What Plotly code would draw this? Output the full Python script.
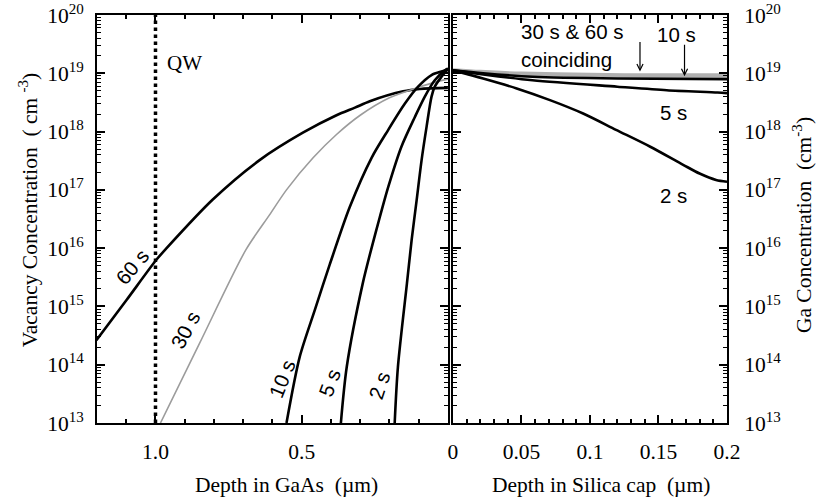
import plotly.graph_objects as go

# ---------------- data ----------------
# Left panel: vacancy concentration vs depth in GaAs (um), values as log10(cm^-3)
gaas_depth_60 = [1.202, 1.099, 0.997, 0.962, 0.805, 0.644, 0.496, 0.381, 0.318, 0.267, 0.153, 0.096, 0.0]
gaas_log_60 = [14.42, 15.11, 15.80, 16.00, 16.83, 17.51, 17.98, 18.28, 18.41, 18.52, 18.69, 18.73, 18.75]

gaas_depth_30 = [0.983, 0.849, 0.691, 0.610, 0.552, 0.461, 0.381, 0.300, 0.200, 0.106, 0.027, 0.0]
gaas_log_30 = [13.00, 14.37, 15.97, 16.57, 17.00, 17.55, 17.95, 18.28, 18.58, 18.75, 18.87, 18.90]

gaas_depth_10 = [0.552, 0.507, 0.455, 0.404, 0.336, 0.261, 0.204, 0.147, 0.102, 0.056, 0.010, 0.0]
gaas_log_10 = [13.00, 14.13, 14.94, 15.72, 16.70, 17.55, 18.03, 18.48, 18.77, 18.97, 19.05, 19.08]

gaas_depth_5 = [0.366, 0.346, 0.291, 0.256, 0.233, 0.204, 0.159, 0.113, 0.079, 0.045, 0.010, 0.0]
gaas_log_5 = [13.00, 13.96, 15.40, 16.10, 16.53, 17.05, 17.74, 18.25, 18.60, 18.88, 19.05, 19.08]

gaas_depth_2 = [0.182, 0.171, 0.140, 0.124, 0.107, 0.090, 0.073, 0.056, 0.045, 0.022, 0.004, 0.0]
gaas_log_2 = [13.00, 13.96, 15.40, 16.14, 16.82, 17.51, 18.08, 18.60, 18.77, 18.94, 19.05, 19.08]

qw_depth = [1.0, 1.0]
qw_log = [13.0, 20.0]

# Right panel: Ga concentration vs depth in silica cap (um)
sil_depth_3060 = [0.0, 0.02, 0.05, 0.10, 0.15, 0.20]
sil_log_3060 = [19.05, 19.02, 18.99, 18.97, 18.96, 18.96]

sil_depth_10 = [0.0, 0.022, 0.058, 0.12, 0.20]
sil_log_10 = [19.05, 19.00, 18.94, 18.91, 18.90]

sil_depth_5 = [0.0, 0.058, 0.12, 0.156, 0.193, 0.20]
sil_log_5 = [19.05, 18.88, 18.77, 18.71, 18.67, 18.66]

sil_depth_2 = [0.0, 0.022, 0.0465, 0.0708, 0.095, 0.119, 0.144, 0.168, 0.18, 0.192, 0.20]
sil_log_2 = [19.05, 18.91, 18.74, 18.54, 18.31, 18.03, 17.74, 17.43, 17.28, 17.17, 17.14]

y_decades = [13, 14, 15, 16, 17, 18, 19, 20]
gaas_ticks = [1.0, 0.5]
gaas_ticktext = ["1.0", "0.5"]
gaas_minor = [1.1, 0.9, 0.8, 0.7, 0.6, 0.4, 0.3, 0.2, 0.1]
sil_ticks = [0, 0.05, 0.1, 0.15, 0.2]
sil_ticktext = ["0", "0.05", "0.1", "0.15", "0.2"]

# ---------------- figure ----------------
SERIF = "Liberation Serif"
SANS = "Liberation Sans"
BLACK = "#000000"

def pw(logs):
    return [10.0 ** v for v in logs]

fig = go.Figure()

def add(x, logs, xa, ya, color=BLACK, width=2.6, dash="solid"):
    fig.add_trace(go.Scatter(x=x, y=pw(logs), mode="lines", xaxis=xa, yaxis=ya,
                             line=dict(color=color, width=width, dash=dash, shape="spline", smoothing=0.8),
                             showlegend=False, hoverinfo="skip"))

add(gaas_depth_60, gaas_log_60, "x", "y")
add(gaas_depth_30, gaas_log_30, "x", "y", color="#9c9c9c", width=1.6)
add(gaas_depth_10, gaas_log_10, "x", "y")
add(gaas_depth_5, gaas_log_5, "x", "y")
add(gaas_depth_2, gaas_log_2, "x", "y")
fig.add_trace(go.Scatter(x=qw_depth, y=pw(qw_log), mode="lines", xaxis="x", yaxis="y",
                         line=dict(color=BLACK, width=3.5, dash="dot"),
                         showlegend=False, hoverinfo="skip"))

add(sil_depth_3060, sil_log_3060, "x2", "y2", color="#b0b0b0", width=4.5)
add(sil_depth_10, sil_log_10, "x2", "y2")
add(sil_depth_5, sil_log_5, "x2", "y2")
add(sil_depth_2, sil_log_2, "x2", "y2")

ytickvals = [10.0 ** k for k in y_decades]
yticktext = ["10<sup>%d</sup>" % k for k in y_decades]
yminor = [m * 10.0 ** k for k in y_decades[:-1] for m in range(2, 10)]

tickfont = dict(family=SERIF, size=21.5, color=BLACK)
common_axis = dict(showline=True, linecolor=BLACK, linewidth=2, mirror="allticks",
                   ticks="inside", ticklen=8, tickwidth=1.5, tickcolor=BLACK,
                   showgrid=False, zeroline=False, tickfont=tickfont, automargin=False)

fig.update_layout(
    width=822, height=502,
    margin=dict(l=97, r=95, t=15, b=79, autoexpand=False),
    paper_bgcolor="white", plot_bgcolor="white",
    xaxis=dict(domain=[0, 0.557], range=[1.2, 0], tickmode="array",
               tickvals=gaas_ticks, ticktext=gaas_ticktext, anchor="y",
               minor=dict(tickmode="array", tickvals=gaas_minor, ticks="inside", ticklen=4,
                          tickwidth=1.5, tickcolor=BLACK),
               ticklabelstandoff=8, **common_axis),
    yaxis=dict(type="log", range=[13, 20], tickmode="array", tickvals=ytickvals,
               ticktext=yticktext, anchor="x",
               minor=dict(tickmode="array", tickvals=yminor, ticks="inside", ticklen=4,
                          tickwidth=1, tickcolor=BLACK),
               ticklabelstandoff=7, **common_axis),
    xaxis2=dict(domain=[0.565, 1], range=[0, 0.2], tickmode="array",
                tickvals=sil_ticks, ticktext=sil_ticktext, anchor="y2",
                minor=dict(tickmode="array", tickvals=[i / 100 for i in range(1, 20)],
                           ticks="inside", ticklen=4, tickwidth=1.5, tickcolor=BLACK),
                ticklabelstandoff=8, **common_axis),
    yaxis2=dict(type="log", range=[13, 20], tickmode="array", tickvals=ytickvals,
                ticktext=yticktext, anchor="x2", side="right",
                minor=dict(tickmode="array", tickvals=yminor, ticks="inside", ticklen=4,
                           tickwidth=1, tickcolor=BLACK),
                ticklabelstandoff=11, **common_axis),
)

serif = dict(family=SERIF, size=21.5, color=BLACK)
sans = dict(family=SANS, size=20.5, color=BLACK)

annots = [
    # axis titles
    dict(text="Depth in GaAs\u00a0 (\u00b5m)", x=0.30, y=-0.152, xref="paper", yref="paper", font=serif),
    dict(text="Depth in Silica cap\u00a0 (\u00b5m)", x=0.80, y=-0.152, xref="paper", yref="paper", font=serif),
    dict(text="Vacancy Concentration\u00a0 ( cm <sup>-3</sup>)", x=-0.109, y=0.522, xref="paper",
         yref="paper", textangle=-90, font=serif),
    dict(text="Ga Concentration\u00a0 (cm<sup>-3</sup>)", x=1.119, y=0.485, xref="paper",
         yref="paper", textangle=-90, font=serif),
    # left panel labels
    dict(text="QW", x=0.90, y=19.17, xref="x", yref="y", font=dict(family=SERIF, size=21, color=BLACK)),
    dict(text="60 s", x=1.079, y=15.68, xref="x", yref="y", textangle=-50, font=sans),
    dict(text="30 s", x=0.897, y=14.60, xref="x", yref="y", textangle=-62, font=sans),
    dict(text="10 s", x=0.568, y=13.77, xref="x", yref="y", textangle=-68, font=sans),
    dict(text="5 s", x=0.404, y=13.69, xref="x", yref="y", textangle=-70, font=sans),
    dict(text="2 s", x=0.236, y=13.65, xref="x", yref="y", textangle=-72, font=sans),
    # right panel labels
    dict(text="30 s & 60 s", x=0.0869, y=19.71, xref="x2", yref="y2", font=sans),
    dict(text="coinciding", x=0.0825, y=19.24, xref="x2", yref="y2", font=sans),
    dict(text="10 s", x=0.1635, y=19.67, xref="x2", yref="y2", font=sans),
    dict(text="5 s", x=0.1606, y=18.32, xref="x2", yref="y2", font=sans),
    dict(text="2 s", x=0.1606, y=16.91, xref="x2", yref="y2", font=sans),
]
for a in annots:
    a.setdefault("showarrow", False)
    a.setdefault("xanchor", "center")
    a.setdefault("yanchor", "middle")
    fig.add_annotation(**a)

# arrows
fig.add_annotation(x=0.1365, y=19.03, xref="x2", yref="y2", ax=0, ay=-31, showarrow=True,
                   arrowhead=5, arrowsize=1, arrowwidth=1.2, arrowcolor=BLACK, text="")
fig.add_annotation(x=0.169, y=18.95, xref="x2", yref="y2", ax=0, ay=-33, showarrow=True,
                   arrowhead=5, arrowsize=1, arrowwidth=1.2, arrowcolor=BLACK, text="")

fig.write_html("out.html")
